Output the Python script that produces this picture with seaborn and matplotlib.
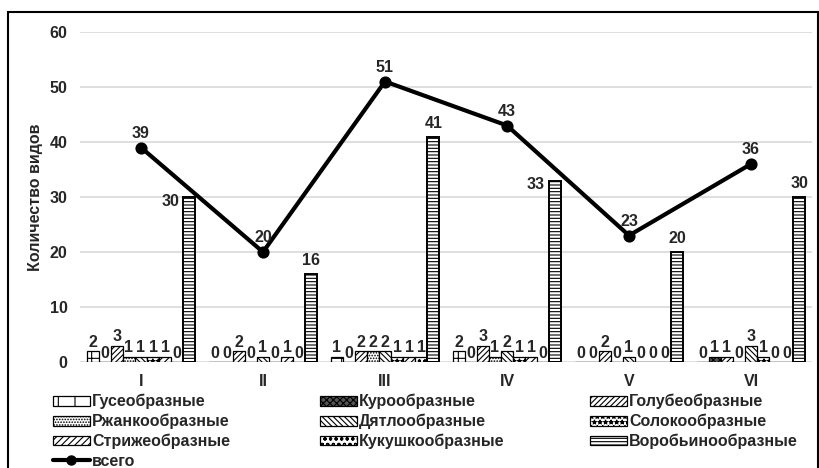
import matplotlib
matplotlib.use("Agg")
import matplotlib.pyplot as plt
import matplotlib.patches as mpatches
from matplotlib.lines import Line2D
import seaborn as sns
import pandas as pd

periods = ["I", "II", "III", "IV", "V", "VI"]
orders = ["Гусеобразные", "Курообразные", "Голубеобразные",
          "Ржанкообразные", "Дятлообразные", "Солокообразные",
          "Стрижеобразные", "Кукушкообразные", "Воробьинообразные"]
counts = {
    "Гусеобразные":      [2, 0, 1, 2, 0, 0],
    "Курообразные":      [0, 0, 0, 0, 0, 1],
    "Голубеобразные":    [3, 2, 2, 3, 2, 1],
    "Ржанкообразные":    [1, 0, 2, 1, 0, 0],
    "Дятлообразные":     [1, 1, 2, 2, 1, 3],
    "Солокообразные":    [1, 0, 1, 1, 0, 1],
    "Стрижеобразные":    [1, 1, 1, 1, 0, 0],
    "Кукушкообразные":   [0, 0, 1, 0, 0, 0],
    "Воробьинообразные": [30, 16, 41, 33, 20, 30],
}
totals = [39, 20, 51, 43, 23, 36]
total_label = "всего"

# bar looks, same order as `orders`
styles = [
    ("white", "+"),
    ("#555555", "xxxxx"),
    ("white", "//////"),
    ("white", "......"),
    ("white", "\\\\\\\\\\\\"),
    ("white", "***"),
    ("white", "/////"),
    ("white", "ooo"),
    ("white", "-----"),
]

rows = []
for o in orders:
    for p, v in zip(periods, counts[o]):
        rows.append({"period": p, "order": o, "count": v})
df = pd.DataFrame(rows)

sns.set_theme(style="white")
plt.rcParams["font.family"] = ["Liberation Sans", "DejaVu Sans"]
plt.rcParams["hatch.linewidth"] = 0.8
txt = "#262626"

fig = plt.figure(figsize=(8.2, 4.68), dpi=100)
ax = fig.add_axes([80 / 820, 1 - 362 / 468, (812 - 80) / 820, (362 - 32) / 468])

sns.barplot(data=df, x="period", y="count", hue="order", order=periods,
            hue_order=orders, palette=["white"] * len(orders), width=0.89,
            edgecolor="black", linewidth=0.9, legend=False, ax=ax)

for cont, (fc, hatch) in zip(ax.containers, styles):
    for bar in cont:
        bar.set_facecolor(fc)
        bar.set_hatch(hatch)
for bar in ax.containers[-1]:
    bar.set_linewidth(1.4)

# value labels
for k, cont in enumerate(ax.containers):
    if k < len(orders) - 1:
        ax.bar_label(cont, padding=1, fontsize=11.5, fontweight="bold", color=txt)
    else:
        for j, bar in enumerate(cont):
            x = bar.get_x() + bar.get_width() / 2
            y = bar.get_height()
            if periods[j] in ("I", "IV"):
                ax.annotate(f"{int(y)}", (bar.get_x(), y), xytext=(-3, -3),
                            textcoords="offset points", ha="right", va="center",
                            fontsize=11.5, fontweight="bold", color=txt)
            else:
                ax.annotate(f"{int(y)}", (x, y), xytext=(0, 4),
                            textcoords="offset points", ha="center", va="bottom",
                            fontsize=11.5, fontweight="bold", color=txt)

sns.pointplot(x=periods, y=totals, order=periods, color="black", markers="o",
              linewidth=3, markersize=6.5, ax=ax)
for i, t in enumerate(totals):
    ax.annotate(str(t), (i, t), xytext=(0, 5), textcoords="offset points",
                ha="center", va="bottom", fontsize=11.5, fontweight="bold", color=txt)

ax.set_ylim(0, 60)
ax.set_yticks(range(0, 61, 10))
ax.grid(axis="y", color="#d9d9d9", linewidth=1.2)
ax.set_axisbelow(True)
for s in ax.spines.values():
    s.set_visible(False)
ax.tick_params(axis="x", length=0, pad=9, labelsize=11.5, labelcolor=txt)
ax.tick_params(axis="y", length=0, pad=9, labelsize=11.5, labelcolor=txt)
for lab in ax.get_xticklabels() + ax.get_yticklabels():
    lab.set_fontweight("bold")
ax.set_xlabel("")
ax.set_ylabel("Количество видов", fontsize=11.5, fontweight="bold", color=txt,
              labelpad=5)

# legend: three columns placed by hand
handles = [mpatches.Patch(facecolor=fc, edgecolor="black", hatch=h, linewidth=0.9)
           for fc, h in styles]
line_h = Line2D([], [], color="black", linewidth=3, marker="o", markersize=6.5)
cols = [
    ([handles[0], handles[3], handles[6], line_h],
     [orders[0], orders[3], orders[6], total_label], 53),
    ([handles[1], handles[4], handles[7]], [orders[1], orders[4], orders[7]], 320),
    ([handles[2], handles[5], handles[8]], [orders[2], orders[5], orders[8]], 590),
]
for hs, ls, px in cols:
    leg = fig.legend(hs, ls, loc="upper left", bbox_to_anchor=(px / 820, 1 - 394 / 468),
                     frameon=False, fontsize=11.5, handlelength=2.3, handleheight=0.56,
                     handletextpad=0.15, labelspacing=0.28, borderpad=0, borderaxespad=0)
    for t in leg.get_texts():
        t.set_fontweight("bold")
        t.set_color(txt)

fig.add_artist(mpatches.Rectangle((8 / 820, -0.02), 810 / 820, 1.02 - 12 / 468,
                                  transform=fig.transFigure, fill=False,
                                  edgecolor="black", linewidth=1.5))

fig.savefig("out.png", dpi=100)
